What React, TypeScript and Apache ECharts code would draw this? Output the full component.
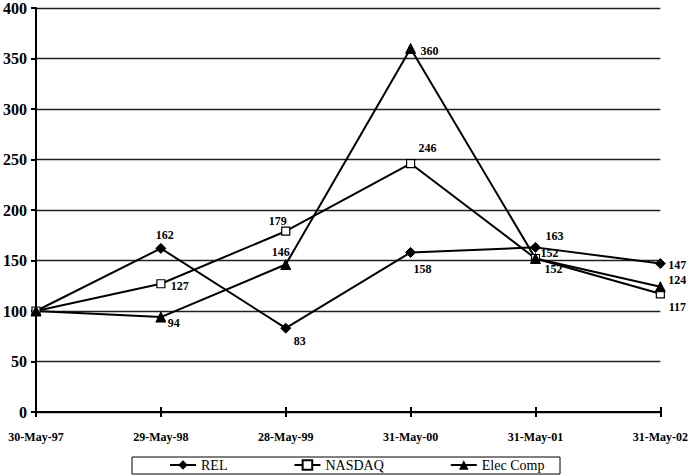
import React, { useEffect, useRef } from "react";
import * as echarts from "echarts";

const categories = ["30-May-97", "29-May-98", "28-May-99", "31-May-00", "31-May-01", "31-May-02"];
const relValues = [100, 162, 83, 158, 163, 147];
const nasdaqValues = [100, 127, 179, 246, 152, 117];
const elecValues = [100, 94, 146, 360, 152, 124];
const yTicks = { min: 0, max: 400, interval: 50 };

// label offsets (style only) relative to point centre
const relOffsets: (number[] | null)[] = [null, [4, -13], [14, 13], [12, 17], [19, -11], [17, 1]];
const nasdaqOffsets: (number[] | null)[] = [null, [19, 2], [-8, -10], [17, -16], [14, -5], [17, 13]];
const elecOffsets: (number[] | null)[] = [null, [13, 6], [-5, -13], [19, 3], [18, 11], [17, -7]];

const FONT = "Liberation Serif";

function buildData(values: number[], offsets: (number[] | null)[]) {
  return values.map((v, i) => {
    const off = offsets[i];
    if (!off) return { value: v, label: { show: false } };
    return {
      value: v,
      label: {
        show: true,
        position: "inside",
        offset: off,
        align: "center",
        verticalAlign: "middle",
      },
    };
  });
}

export default function App() {
  const ref = useRef<HTMLDivElement>(null);
  useEffect(() => {
    if (!ref.current) return;
    const chart = echarts.init(ref.current, null, { renderer: "svg" });
    const labelStyle = {
      fontFamily: FONT,
      fontWeight: "bold",
      fontSize: 12,
      color: "#000",
      formatter: "{c}",
    };
    const common = {
      type: "line",
      animation: false,
      lineStyle: { color: "#000", width: 2 },
      itemStyle: { color: "#000", borderColor: "#000" },
      label: labelStyle,
      emphasis: { disabled: true },
      z: 3,
    };
    chart.setOption({
      animation: false,
      backgroundColor: "#fff",
      textStyle: { fontFamily: FONT },
      grid: { left: 35, right: 26, top: 4, bottom: 64, containLabel: false },
      xAxis: [
        {
          type: "category",
          data: categories,
          boundaryGap: false,
          axisLine: { lineStyle: { color: "#000", width: 2 } },
          axisTick: { show: true, length: 5, alignWithLabel: true, lineStyle: { color: "#000", width: 2 } },
          axisLabel: {
            margin: 19,
            fontFamily: FONT,
            fontWeight: "bold",
            fontSize: 12,
            color: "#000",
          },
          splitLine: { show: false },
        },
        {
          type: "category",
          data: categories,
          boundaryGap: false,
          position: "bottom",
          axisLine: { show: false },
          axisTick: { show: true, inside: true, length: 5, lineStyle: { color: "#000", width: 2 } },
          axisLabel: { show: false },
          splitLine: { show: false },
        },
      ],
      yAxis: {
        type: "value",
        min: yTicks.min,
        max: yTicks.max,
        interval: yTicks.interval,
        axisLine: { show: true, lineStyle: { color: "#000", width: 2 } },
        axisTick: { show: true, length: 5, lineStyle: { color: "#000", width: 2 } },
        axisLabel: {
          margin: 9,
          fontFamily: FONT,
          fontWeight: "bold",
          fontSize: 16,
          color: "#000",
        },
        splitLine: { show: true, lineStyle: { color: "#222", width: 1.3 } },
      },
      graphic: [
        {
          type: "rect",
          shape: { x: 132, y: 457, width: 428, height: 17 },
          style: { fill: "none", stroke: "#000", lineWidth: 1 },
          silent: true,
        },
      ],
      legend: {
        left: 169,
        top: 458,
        orient: "horizontal",
        padding: 0,
        itemWidth: 26,
        itemHeight: 12,
        itemGap: 66,
        textStyle: { fontFamily: FONT, fontSize: 14, color: "#000" },
        data: ["REL", "NASDAQ", "Elec Comp"],
      },
      series: [
        {
          ...common,
          name: "REL",
          symbol: "diamond",
          symbolSize: 10,
          data: buildData(relValues, relOffsets),
        },
        {
          ...common,
          name: "NASDAQ",
          symbol: "rect",
          symbolSize: 8,
          itemStyle: { color: "#fff", borderColor: "#000", borderWidth: 1.2 },
          data: buildData(nasdaqValues, nasdaqOffsets),
        },
        {
          ...common,
          name: "Elec Comp",
          symbol: "triangle",
          symbolSize: 10,
          data: buildData(elecValues, elecOffsets),
        },
      ],
    });
    return () => chart.dispose();
  }, []);
  return <div ref={ref} style={{ width: 691, height: 476, position: "absolute", left: 0, top: 0 }} />;
}
